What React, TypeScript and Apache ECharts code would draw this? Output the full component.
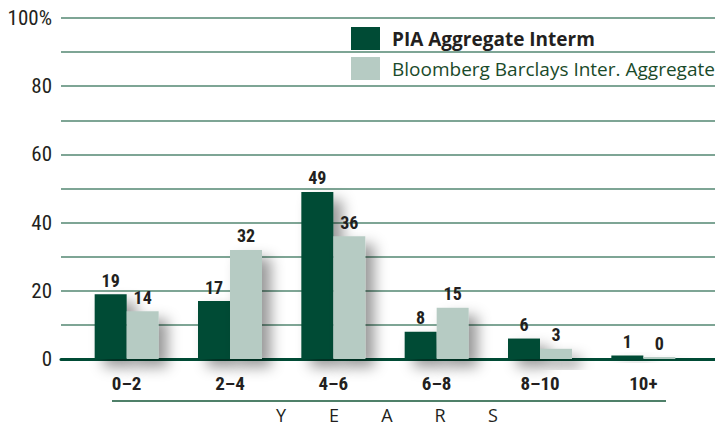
import React, { useEffect, useRef } from "react";
import * as echarts from "echarts";

const categories = ["0–2", "2–4", "4–6", "6–8", "8–10", "10+"];
const piaValues = [19, 17, 49, 8, 6, 1];
const bloombergValues = [14, 32, 36, 15, 3, 0];
const yTickLabels: Record<number, string> = { 0: "0", 20: "20", 40: "40", 60: "60", 80: "80", 100: "100%" };
const axisTitleLetters = ["Y", "E", "A", "R", "S"];
const seriesNames = ["PIA Aggregate Interm", "Bloomberg Barclays Inter. Aggregate"];

const NARROW = "'Liberation Sans Narrow', 'Roboto Condensed', 'Liberation Sans', sans-serif";

export default function App() {
  const ref = useRef<HTMLDivElement>(null);
  useEffect(() => {
    if (!ref.current) return;
    const chart = echarts.init(ref.current, null, { renderer: "svg" });
    const shadow = {
      shadowBlur: 14,
      shadowOffsetX: 9,
      shadowOffsetY: 8,
      shadowColor: "rgba(0,0,0,0.4)",
    };
    const labelStyle = {
      show: true,
      position: "top" as const,
      distance: 5,
      fontFamily: NARROW,
      fontWeight: "bold" as const,
      fontSize: 18,
      color: "#231f20",
    };
    chart.setOption({
      animation: false,
      backgroundColor: "#ffffff",
      grid: [
        { left: 61, right: 0, top: 18, bottom: 67 },
        { left: 75, right: 20, top: 18, bottom: 67 },
      ],
      xAxis: [
        {
          gridIndex: 0,
          type: "value",
          min: 0,
          max: 1,
          show: true,
          axisLine: { show: true, lineStyle: { color: "#004b35", width: 3 } },
          axisTick: { show: false },
          axisLabel: { show: false },
          splitLine: { show: false },
        },
        {
          gridIndex: 1,
          type: "category",
          data: categories,
          axisLine: { show: false },
          axisTick: { show: false },
          axisLabel: {
            margin: 15,
            fontFamily: NARROW,
            fontWeight: "bold",
            fontSize: 19,
            color: "#231f20",
          },
        },
      ],
      yAxis: [
        {
          gridIndex: 0,
          type: "value",
          min: 0,
          max: 100,
          interval: 10,
          axisLine: { show: false },
          axisTick: { show: false },
          axisLabel: {
            margin: 9,
            fontFamily: NARROW,
            fontSize: 21,
            color: "#231f20",
            formatter: (v: number) => (yTickLabels[v] !== undefined ? yTickLabels[v] : ""),
          },
          splitLine: { show: true, lineStyle: { color: "#7ea595", width: 2 } },
        },
        {
          gridIndex: 1,
          type: "value",
          min: 0,
          max: 100,
          show: false,
          splitLine: { show: false },
        },
      ],
      legend: {
        orient: "vertical",
        left: 351,
        top: 27,
        padding: 0,
        itemWidth: 29,
        itemHeight: 23,
        itemGap: 7,
        icon: "rect",
        data: [
          {
            name: seriesNames[0],
            textStyle: { fontFamily: "'Open Sans', sans-serif", fontWeight: "bold", fontSize: 19, color: "#231f20", padding: [0, 0, 0, 7] },
          },
          {
            name: seriesNames[1],
            textStyle: { fontFamily: "'Open Sans', sans-serif", fontWeight: "normal", fontSize: 19, color: "#1a4a2a", padding: [0, 0, 0, 7] },
          },
        ],
        itemStyle: { borderWidth: 0, shadowBlur: 0, shadowOffsetX: 0, shadowOffsetY: 0 },
      },
      series: [
        {
          name: seriesNames[0],
          type: "bar",
          xAxisIndex: 1,
          yAxisIndex: 1,
          data: piaValues,
          barWidth: 32,
          barGap: "0%",
          barMinHeight: 2,
          itemStyle: { color: "#004b35", ...shadow },
          label: labelStyle,
        },
        {
          name: seriesNames[1],
          type: "bar",
          xAxisIndex: 1,
          yAxisIndex: 1,
          data: bloombergValues,
          barWidth: 32,
          barGap: "0%",
          barMinHeight: 2,
          itemStyle: { color: "#b6cbc3", ...shadow },
          label: labelStyle,
        },
      ],
      graphic: [
        {
          type: "line",
          shape: { x1: 112, y1: 401, x2: 666, y2: 401 },
          style: { stroke: "#4f8069", lineWidth: 2 },
        },
        ...axisTitleLetters.map((ch, i) => ({
          type: "text",
          x: 281 + i * 53,
          y: 415,
          style: {
            text: ch,
            fontFamily: "'Open Sans', sans-serif",
            fontSize: 18,
            fill: "#231f20",
            align: "center",
            verticalAlign: "middle",
          },
        })),
      ],
    });
    return () => chart.dispose();
  }, []);
  return <div ref={ref} style={{ width: 715, height: 426, position: "absolute", left: 0, top: 0 }} />;
}
